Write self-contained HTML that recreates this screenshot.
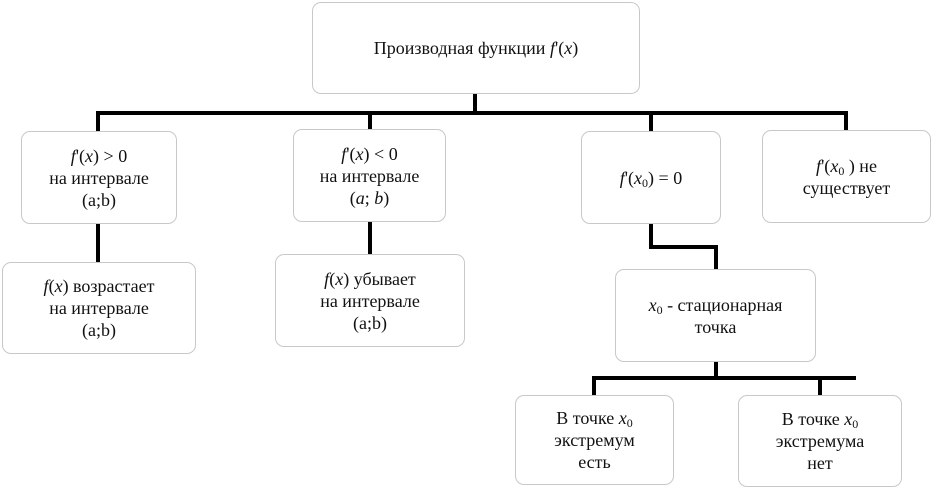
<!DOCTYPE html><html><head><meta charset="utf-8"><style>
body{margin:0;width:932px;height:488px;background:#fff;position:relative;overflow:hidden;font-family:"Liberation Serif","DejaVu Serif",serif;font-size:18px;color:#111}
.b{position:absolute;border:1.5px solid #c8c8c8;border-radius:9px;box-sizing:border-box;display:flex;align-items:center;justify-content:center;text-align:center;line-height:22px;background:#fff}
.l{position:absolute;background:#000}
i{font-style:italic}
sub{font-size:12px;vertical-align:-3px;line-height:0}
</style></head><body>
<div class="l" style="left:473px;top:92px;width:4px;height:23px"></div>
<div class="l" style="left:96px;top:111px;width:752px;height:4px"></div>
<div class="l" style="left:96px;top:111px;width:4px;height:21px"></div>
<div class="l" style="left:368px;top:111px;width:4px;height:19px"></div>
<div class="l" style="left:649px;top:111px;width:4px;height:21px"></div>
<div class="l" style="left:844px;top:111px;width:4px;height:20px"></div>
<div class="l" style="left:96px;top:222px;width:4px;height:41px"></div>
<div class="l" style="left:368px;top:220px;width:4px;height:35px"></div>
<div class="l" style="left:649px;top:222px;width:4px;height:27px"></div>
<div class="l" style="left:649px;top:245px;width:69px;height:4px"></div>
<div class="l" style="left:714px;top:245px;width:4px;height:25px"></div>
<div class="l" style="left:714px;top:360px;width:4px;height:20px"></div>
<div class="l" style="left:592px;top:376px;width:264px;height:4px"></div>
<div class="l" style="left:592px;top:376px;width:4px;height:20px"></div>
<div class="l" style="left:818px;top:376px;width:4px;height:20px"></div>

<div class="b" style="left:312px;top:2px;width:328px;height:92px">Производная функции&nbsp;<i>f</i>'(<i>x</i>)</div>
<div class="b" style="left:21px;top:131px;width:156px;height:93px"><div><i>f</i>'(<i>x</i>) &gt; 0<br>на интервале<br>(a;b)</div></div>
<div class="b" style="left:293px;top:129px;width:153px;height:93px"><div><i>f</i>'(<i>x</i>) &lt; 0<br>на интервале<br>(<i>a</i>; <i>b</i>)</div></div>
<div class="b" style="left:581px;top:131px;width:140px;height:93px"><div><i>f</i>'(<i>x</i><sub>0</sub>) = 0</div></div>
<div class="b" style="left:762px;top:130px;width:169px;height:93px"><div><i>f</i>'(<i>x</i><sub>0</sub> ) не<br>существует</div></div>
<div class="b" style="left:2px;top:262px;width:194px;height:92px"><div><i>f</i>(<i>x</i>) возрастает<br>на интервале<br>(a;b)</div></div>
<div class="b" style="left:275px;top:254px;width:190px;height:93px"><div><i>f</i>(<i>x</i>) убывает<br>на интервале<br>(a;b)</div></div>
<div class="b" style="left:615px;top:269px;width:201px;height:93px"><div><i>x</i><sub>0</sub> - стационарная<br>точка</div></div>
<div class="b" style="left:515px;top:395px;width:159px;height:90px"><div>В точке <i>x</i><sub>0</sub><br>экстремум<br>есть</div></div>
<div class="b" style="left:738px;top:395px;width:164px;height:92px"><div>В точке <i>x</i><sub>0</sub><br>экстремума<br>нет</div></div>
</body></html>
